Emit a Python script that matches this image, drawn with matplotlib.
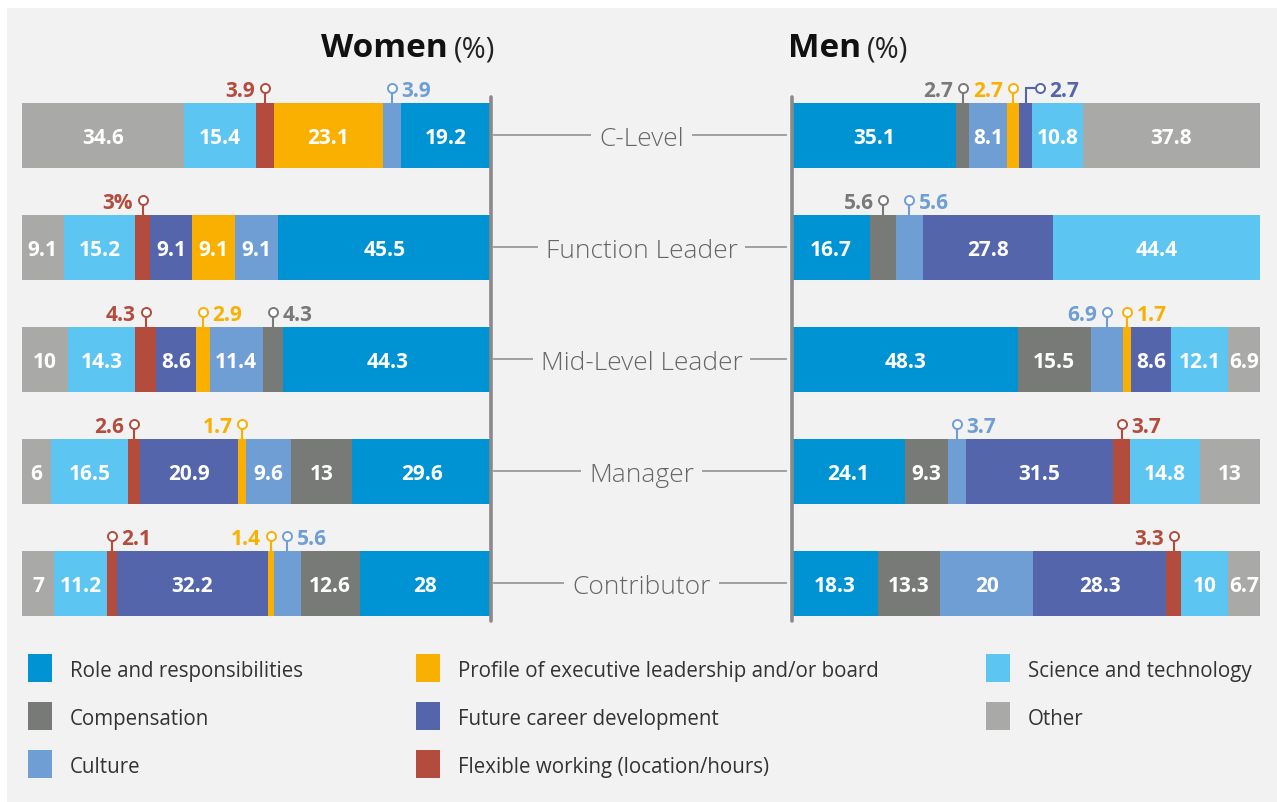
import matplotlib.pyplot as plt
from matplotlib.patches import Rectangle

plt.rcParams['font.family'] = ['Open Sans', 'DejaVu Sans']

levels = ["C-Level", "Function Leader", "Mid-Level Leader", "Manager", "Contributor"]
categories = ["Role and responsibilities", "Compensation", "Culture",
              "Profile of executive leadership and/or board", "Future career development",
              "Flexible working (location/hours)", "Science and technology", "Other"]
colors = ["#0093d3", "#787a77", "#6e9ed3", "#f9b000", "#5465ac", "#b34c3d", "#5cc5f2", "#a9aaa7"]

# women, per category, one value per level (%)
women_role = [19.2, 45.5, 44.3, 29.6, 28]
women_comp = [0, 0, 4.3, 13, 12.6]
women_culture = [3.9, 9.1, 11.4, 9.6, 5.6]
women_profile = [23.1, 9.1, 2.9, 1.7, 1.4]
women_future = [0, 9.1, 8.6, 20.9, 32.2]
women_flex = [3.9, 3, 4.3, 2.6, 2.1]
women_science = [15.4, 15.2, 14.3, 16.5, 11.2]
women_other = [34.6, 9.1, 10, 6, 7]

# men
men_role = [35.1, 16.7, 48.3, 24.1, 18.3]
men_comp = [2.7, 5.6, 15.5, 9.3, 13.3]
men_culture = [8.1, 5.6, 6.9, 3.7, 20]
men_profile = [2.7, 0, 1.7, 0, 0]
men_future = [2.7, 27.8, 8.6, 31.5, 28.3]
men_flex = [0, 0, 0, 3.7, 3.3]
men_science = [10.8, 44.4, 12.1, 14.8, 10]
men_other = [37.8, 0, 6.9, 13, 6.7]

women = [women_role, women_comp, women_culture, women_profile,
         women_future, women_flex, women_science, women_other]
men = [men_role, men_comp, men_culture, men_profile,
       men_future, men_flex, men_science, men_other]

# thin segments labelled above the bar: (panel, level, category, text side, elbow)
pins = [("women", 0, 5, "left", 0), ("women", 0, 2, "right", 0),
        ("women", 1, 5, "left", 0),
        ("women", 2, 5, "left", 0), ("women", 2, 3, "right", 0), ("women", 2, 1, "right", 0),
        ("women", 3, 5, "left", 0), ("women", 3, 3, "left", 0),
        ("women", 4, 5, "right", 0), ("women", 4, 3, "left", 0), ("women", 4, 2, "right", 0),
        ("men", 0, 1, "left", 0), ("men", 0, 3, "left", 0), ("men", 0, 4, "right", 3.0),
        ("men", 1, 1, "left", 0), ("men", 1, 2, "right", 0),
        ("men", 2, 2, "left", 0), ("men", 2, 3, "right", 0),
        ("men", 3, 2, "right", 0), ("men", 3, 5, "right", 0),
        ("men", 4, 5, "left", 0)]
pin_text = {("women", 1, 5): "3%"}

W, H = 1277, 803
BG = "#f2f2f2"

def fx(x):
    return x / W

def fy(y):
    return 1 - y / H

def fmt(v):
    return ("%.1f" % v).rstrip("0").rstrip(".")

fig = plt.figure(figsize=(W / 100, H / 100), dpi=100, facecolor="white")
fig.patches.append(Rectangle((fx(7), 0), 1 - fx(7), fy(9), transform=fig.transFigure,
                             facecolor=BG, edgecolor="none", zorder=-10))

top_px, bot_px = 60, 640
row0, step = 136.3, 112
ylim = ((bot_px - row0) / step, (top_px - row0) / step)
bar_h = 0.578
pin_rise = 0.13

def make_ax(x0, x1):
    ax = fig.add_axes([fx(x0), fy(bot_px), (x1 - x0) / W, (bot_px - top_px) / H])
    ax.set_ylim(*ylim)
    ax.axis("off")
    ax.patch.set_alpha(0)
    return ax

ax_w = make_ax(22, 491)
ax_w.set_xlim(100, 0)
ax_m = make_ax(792, 1260)
ax_m.set_xlim(0, 100)
ax_c = make_ax(491, 792)
ax_c.set_xlim(0, 1)

pinned = {(p, l, c): (s, e) for p, l, c, s, e in pins}

for name, ax, data in [("women", ax_w, women), ("men", ax_m, men)]:
    for li in range(len(levels)):
        left = 0
        for ci, col in enumerate(colors):
            v = data[ci][li]
            if v <= 0:
                continue
            ax.barh(li, v, left=left, height=bar_h, color=col, linewidth=0, zorder=2)
            cx = left + v / 2
            key = (name, li, ci)
            if key in pinned:
                side, elbow = pinned[key]
                ytop = li - bar_h / 2
                ypin = ytop - pin_rise
                # visual direction of x in the panel
                sgn = -1 if name == "women" else 1
                px = cx + sgn * elbow
                ax.plot([cx, cx, px], [ytop, ypin, ypin], color=col, lw=1.5,
                        zorder=3, solid_joinstyle="miter")
                ax.plot(px, ypin, "o", ms=6.5, mfc="white", mec=col, mew=1.4, zorder=4)
                off = -7 if side == "left" else 7
                ax.annotate(pin_text.get(key, fmt(v)), (px, ypin), xytext=(off, 0),
                            textcoords="offset points", ha="right" if side == "left" else "left",
                            va="center_baseline", color=col, fontsize=15, fontweight="bold")
            else:
                ax.text(cx, li, fmt(v), ha="center", va="center_baseline", color="white",
                        fontsize=15, fontweight="bold", zorder=3)
            left += v

# vertical axis lines
for ax in (ax_w, ax_m):
    ax.plot([0, 0], [(98 - row0) / step, (622 - row0) / step], color="#8a8a8a",
            lw=2.6, solid_capstyle="round", clip_on=False, zorder=5)

# level labels in the middle
for li, lev in enumerate(levels):
    ax_c.plot([0.01, 0.98], [li, li], color="#9a9a9a", lw=1.3, zorder=1)
    ax_c.text(0.5, li, lev, ha="center", va="center_baseline", fontsize=19, color="#666666",
              fontweight="light",
              bbox=dict(boxstyle="square,pad=0.3", facecolor=BG, edgecolor="none"), zorder=2)

# titles
r = fig.canvas.get_renderer()
t1 = fig.text(fx(495), fy(57), "(%)", ha="right", va="baseline", fontsize=21, color="#222222")
w1 = t1.get_window_extent(r).width
fig.text(fx(495 - w1 - 6), fy(57), "Women", ha="right", va="baseline", fontsize=24,
         fontweight="bold", color="#111111")
t2 = fig.text(fx(788), fy(57), "Men", ha="left", va="baseline", fontsize=24,
              fontweight="bold", color="#111111")
w2 = t2.get_window_extent(r).width
fig.text(fx(788 + w2 + 6), fy(57), "(%)", ha="left", va="baseline", fontsize=21, color="#222222")

# legend
col_x = [28, 416, 986]
row_y = [669, 717, 765]
for ci, (cat, col) in enumerate(zip(categories, colors)):
    x = col_x[ci // 3]
    y = row_y[ci % 3]
    fig.patches.append(Rectangle((fx(x), fy(y + 14)), 24 / W, 28 / H,
                                 transform=fig.transFigure, facecolor=col,
                                 edgecolor="none", zorder=2))
    fig.text(fx(x + 42), fy(y + 3), cat, ha="left", va="center", fontsize=14.8, color="#333333")

fig.savefig("out.png", dpi=100, facecolor="white")
